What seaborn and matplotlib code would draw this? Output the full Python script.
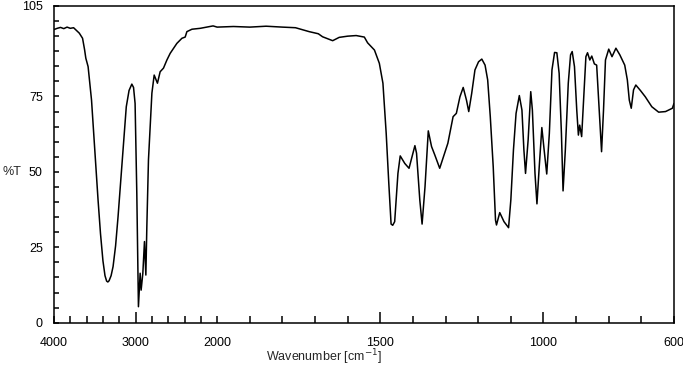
import numpy as np
import pandas as pd
import matplotlib
matplotlib.use("Agg")
import matplotlib.pyplot as plt
from matplotlib.ticker import FixedLocator, MultipleLocator
import seaborn as sns

# ---- data ----
wavenumber = [
    4000, 3960, 3920, 3880, 3840, 3800, 3760, 3720, 3690, 3650, 3625, 3610, 3582,
    3540, 3500, 3460, 3430, 3400, 3375, 3355, 3340, 3325, 3300, 3276, 3245, 3215,
    3185, 3155, 3114, 3080, 3046, 3025, 3006, 2985, 2965, 2944, 2932, 2911, 2891,
    2874, 2862, 2842, 2800, 2772, 2732, 2699, 2658, 2616, 2576, 2494, 2432, 2392,
    2371, 2309, 2207, 2150, 2100, 2050, 2000, 1950, 1900, 1850, 1800, 1760, 1718,
    1690, 1677, 1646, 1626, 1600, 1574, 1549, 1539, 1518, 1503, 1492, 1482, 1474,
    1467, 1462, 1456, 1446, 1439, 1425, 1412, 1394, 1389, 1379, 1372, 1363, 1353,
    1343, 1333, 1318, 1303, 1293, 1277, 1267, 1256, 1246, 1236, 1229, 1220, 1210,
    1199, 1189, 1179, 1171, 1163, 1154, 1147, 1144, 1134, 1121, 1107, 1100, 1092,
    1084, 1074, 1066, 1060, 1055, 1047, 1039, 1034, 1026, 1020, 1013, 1005, 998,
    990, 982, 974, 966, 959, 952, 945, 940, 933, 924, 917, 912, 905, 898, 893,
    889, 883, 877, 870, 865, 858, 852, 844, 837, 831, 822, 816, 810, 800, 790,
    778, 766, 751, 743, 737, 731, 724, 717, 703, 688, 668, 647, 626, 605, 600,
]
transmittance = [
    97.2, 97.6, 97.9, 97.5, 98.0, 97.6, 97.8, 96.8, 96.0, 94.3, 90.5, 87.7, 84.9,
    73.8, 57.3, 40.7, 29.5, 20.5, 15.6, 13.8, 13.5, 13.9, 15.6, 18.6, 25.5, 35.1,
    46.0, 57.3, 71.6, 77.0, 79.1, 78.0, 72.7, 42.9, 5.3, 16.4, 10.8, 16.4, 26.9,
    15.8, 31.8, 54.0, 76.1, 82.1, 79.4, 83.2, 84.4, 87.1, 89.3, 92.6, 94.3, 94.7,
    96.5, 97.3, 97.6, 97.9, 98.2, 98.4, 98.0, 98.2, 98.0, 98.3, 98.0, 97.8, 96.5,
    95.8, 94.8, 93.5, 94.6, 95.0, 95.2, 94.7, 92.8, 90.4, 86.0, 79.4, 62.8, 46.2,
    32.7, 32.3, 33.5, 49.5, 55.3, 52.8, 51.2, 58.7, 56.2, 40.7, 32.7, 45.1, 63.6,
    58.4, 55.6, 51.2, 56.2, 59.5, 68.3, 69.4, 74.9, 78.0, 73.8, 70.0, 76.0, 83.8,
    86.5, 87.4, 85.4, 80.5, 68.3, 51.7, 34.0, 32.4, 36.5, 33.5, 31.5, 40.7, 57.3,
    69.4, 75.3, 70.5, 57.3, 49.5, 60.6, 76.6, 70.5, 49.5, 39.4, 51.7, 64.7, 57.3,
    49.3, 62.8, 83.8, 89.6, 89.5, 82.7, 62.8, 43.7, 57.3, 79.4, 88.8, 89.9, 84.9,
    70.5, 62.2, 65.5, 61.7, 73.8, 88.2, 89.5, 87.1, 88.4, 85.8, 85.4, 73.8, 56.7,
    70.5, 87.1, 90.7, 88.2, 91.0, 88.8, 85.4, 80.5, 73.8, 71.1, 77.2, 78.8, 77.0,
    74.9, 71.6, 69.8, 70.0, 71.1, 72.7,
]
x_tick_labels = [4000, 3000, 2000, 1500, 1000, 600]
x_long_ticks = [3000, 1500, 1000]
y_tick_labels = [0, 25, 50, 75, 105]

df = pd.DataFrame({"Wavenumber": wavenumber, "T": transmittance})

# ---- figure ----
sns.set_style("ticks")
plt.rcParams["font.family"] = ["Liberation Sans", "DejaVu Sans"]

fig = plt.figure(figsize=(6.83, 3.75), dpi=100)
ax = fig.add_axes([54 / 683, 1 - 322.7 / 375, 620 / 683, (322.7 - 6) / 375])

sns.lineplot(data=df, x="Wavenumber", y="T", ax=ax, color="black",
             linewidth=1.1, sort=False, estimator=None)


# split scale: 4000-2000 compressed 4x relative to 2000-600
def fwd(w):
    w = np.asarray(w, dtype=float)
    return np.where(w >= 2000, (w - 2000) / 4.0, w - 2000)


def inv(u):
    u = np.asarray(u, dtype=float)
    return np.where(u >= 0, 2000 + 4.0 * u, 2000 + u)


ax.set_xscale("function", functions=(fwd, inv))
ax.set_xlim(4000, 600)
ax.set_ylim(0, 105)

minor_x = [v for v in list(np.arange(3800, 2000, -200)) + list(np.arange(1900, 600, -100))
           if v not in x_tick_labels]
ax.xaxis.set_major_locator(FixedLocator(x_tick_labels))
ax.xaxis.set_minor_locator(FixedLocator(minor_x))
ax.set_xticklabels([str(v) for v in x_tick_labels])

ax.yaxis.set_major_locator(FixedLocator(y_tick_labels))
ax.yaxis.set_minor_locator(MultipleLocator(5))
ax.set_yticklabels([str(v) for v in y_tick_labels])

ax.tick_params(axis="x", which="both", direction="in", length=4.8, width=1.1,
               pad=10, labelsize=9, colors="black", bottom=True, top=False)
ax.tick_params(axis="y", which="both", direction="in", length=3.8, width=1.1,
               pad=8, labelsize=9, colors="black", left=True, right=False)

# long ticks at 3000, 1500, 1000
for t, v in zip(ax.xaxis.get_major_ticks(), x_tick_labels):
    if v in x_long_ticks:
        t.tick1line.set_markersize(8)

for s in ax.spines.values():
    s.set_visible(True)
    s.set_linewidth(1.1)
    s.set_color("black")

ax.set_xlabel("Wavenumber [cm$^{-1}$]", fontsize=9)
ax.xaxis.set_label_coords((324 - 54) / 620, -(357 - 322.7) / 316.7)
ax.set_ylabel("%T", fontsize=9, rotation=0)
ax.yaxis.set_label_coords((11.7 - 54) / 620, (322.7 - 171.7) / 316.7)
ax.yaxis.label.set_va("center")
ax.yaxis.label.set_ha("center")
ax.xaxis.label.set_va("center")

fig.savefig("out.png", dpi=100)
